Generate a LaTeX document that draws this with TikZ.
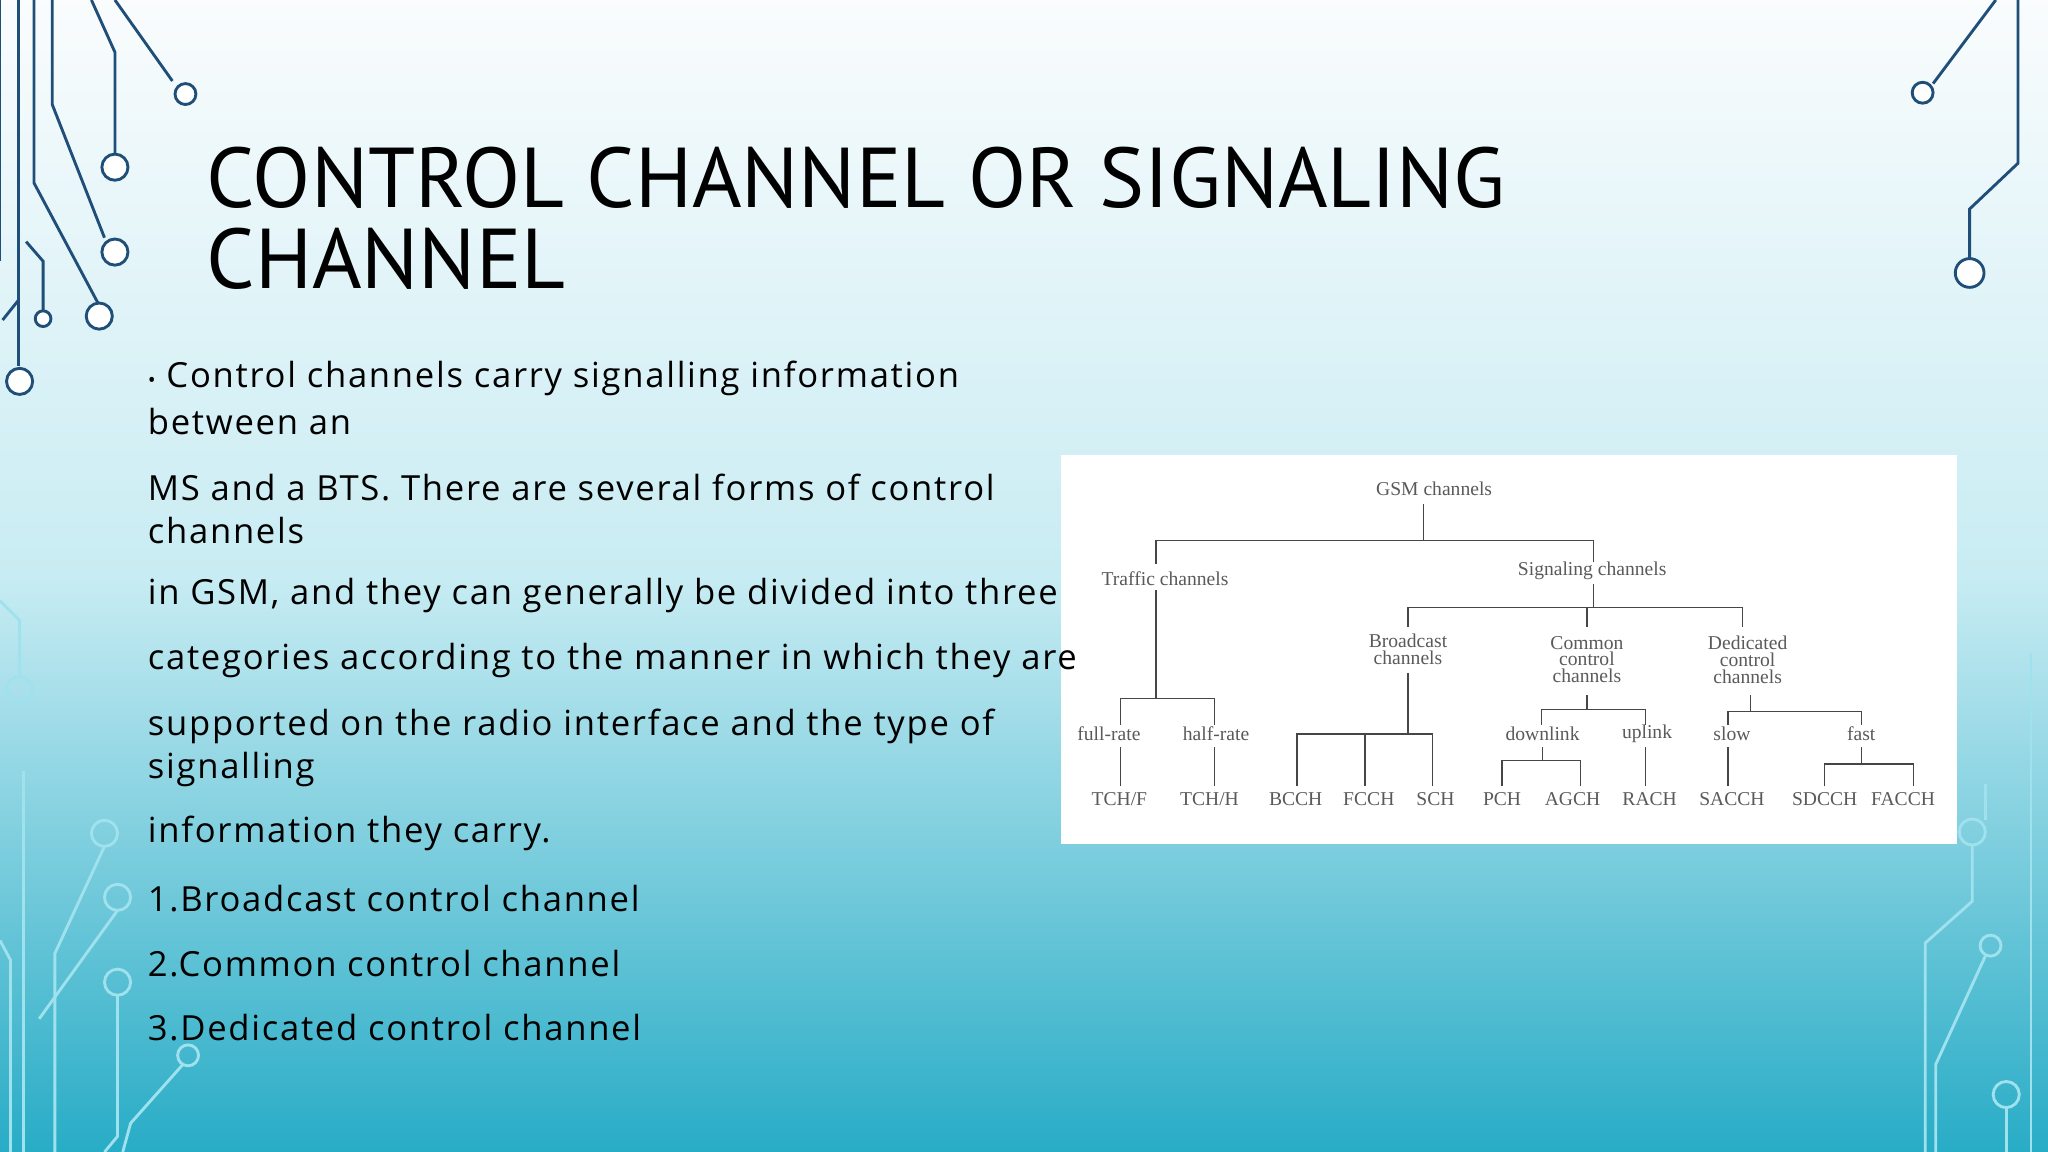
\documentclass[tikz,border=0pt]{standalone}
\usepackage{fontspec}
\setmainfont{PT Sans}
\newfontfamily\bfont[LetterSpace=5]{Open Sans}
\newfontfamily\dfont{Liberation Serif}
\definecolor{bgtop}{RGB}{250,252,253}
\definecolor{bgmid}{RGB}{200,236,243}
\definecolor{bgbot}{RGB}{40,172,198}
\definecolor{dkc}{RGB}{31,78,121}
\definecolor{ltc}{RGB}{160,225,238}
\definecolor{dtxt}{RGB}{90,90,90}
\definecolor{tlc}{RGB}{70,70,70}
\begin{document}
\begin{tikzpicture}[x=1pt,y=-1pt,
  dk/.style={draw=dkc,line width=2.2pt},
  lt/.style={draw=ltc,line width=2.2pt},
  body/.style={anchor=west,font=\bfont\fontsize{26.5}{28}\selectfont,inner sep=0pt},
  dt/.style={font=\dfont\fontsize{15}{16}\selectfont,text=dtxt,align=center,inner sep=1pt},
  tl/.style={draw=tlc,line width=1pt}]
\useasboundingbox (0,0) rectangle (1568,882);
\shade[top color=bgtop,bottom color=bgbot,middle color=bgmid] (0,0) rectangle (1568,882);
% circuit decorations left top
\draw[dk] (0,0)--(0,200); \draw[dk] (14,0)--(14,280);
\draw[dk] (26,0)--(26,140)--(75,232); \draw[dk] (40,0)--(40,80)--(80,182);
\draw[dk] (70,0)--(88,40)--(88,118); \draw[dk] (88,0)--(132,62);
\draw[dk] (2,245)--(14,230); \draw[dk] (20,185)--(33,200)--(33,238);
\draw[dk,fill=white] (142,72) circle (8); \draw[dk,fill=white] (88,128) circle (10);
\draw[dk,fill=white] (88,193) circle (10); \draw[dk,fill=white] (76,242) circle (10);
\draw[dk,fill=white] (33,244) circle (6); \draw[dk,fill=white] (15,292) circle (10);
% left bottom light
\draw[lt] (0,460)--(15,475)--(15,518); \draw[lt] (15,528) circle (10);
\draw[lt] (18,590)--(18,882); \draw[lt] (0,720)--(8,735)--(8,882);
\draw[lt] (80,648)--(42,730)--(42,882); \draw[lt] (90,697)--(30,780);
\draw[lt] (90,762)--(90,870)--(80,882); \draw[lt] (140,815)--(100,860)--(94,882);
\draw[lt] (80,638) circle (10); \draw[lt] (90,687) circle (10); \draw[lt] (90,752) circle (10); \draw[lt] (144,808) circle (8);
% right top
\draw[dk] (1528,0)--(1480,64); \draw[dk] (1545,0)--(1545,125)--(1508,160)--(1508,198);
\draw[dk,fill=white] (1472,71) circle (8); \draw[dk,fill=white] (1508,209) circle (11);
% right bottom
\draw[lt] (1520,600)--(1520,628); \draw[lt] (1510,637) circle (10);
\draw[lt] (1510,647)--(1510,690)--(1474,722)--(1474,882);
\draw[lt] (1520,732)--(1482,815)--(1482,882);
\draw[lt] (1524,724) circle (8); \draw[lt] (1536,838) circle (10); \draw[lt] (1536,848)--(1536,882);
\draw[lt] (1555,500)--(1555,882);
% title
\node[anchor=west,inner sep=0pt,font=\fontsize{65}{66}\selectfont] (t1) at (158,136) {CONTROL CHANNEL OR SIGNALING};
\node[anchor=west,inner sep=0pt,font=\fontsize{65}{66}\selectfont] (t2) at (158,198) {CHANNEL};
% diagram
\fill[white] (812,348) rectangle (1498,646);
\node[dt] (gsm) at (1098,374) {GSM channels};
\node[dt] (tr) at (892,443) {Traffic channels};
\node[dt] (sg) at (1219,437) {Signaling channels};
\node[dt] (bc) at (1078,497) {Broadcast\\[-3pt]channels};
\node[dt] (cc) at (1215,505) {Common\\[-3pt]control\\[-3pt]channels};
\node[dt] (dc) at (1338,505) {Dedicated\\[-3pt]control\\[-3pt]channels};
\node[dt] (fr) at (849,562) {full-rate};
\node[dt] (hr) at (931,562) {half-rate};
\node[dt] (dl) at (1181,562) {downlink};
\node[dt] (ul) at (1261,562) {uplink};
\node[dt] (sl) at (1326,562) {slow};
\node[dt] (fa) at (1425,562) {fast};
\node[dt] (tf) at (857,612) {TCH/F};
\node[dt] (th) at (926,612) {TCH/H};
\foreach \n/\x/\t in {bcch/992/BCCH,fcch/1048/FCCH,sch/1099/SCH,pch/1150/PCH,agch/1204/AGCH,rach/1263/RACH,sacch/1326/SACCH,sdcch/1397/SDCCH,facch/1457/FACCH}
  \node[dt] (\n) at (\x,612) {\t};
\draw[tl] (1090,386)--(1090,414);
\draw[tl] (885,432)--(885,414)--(1220,414)--(1220,430);
\draw[tl] (885,452)--(885,535); \draw[tl] (858,555)--(858,535)--(930,535)--(930,555);
\draw[tl] (858,572)--(858,602); \draw[tl] (930,572)--(930,602);
\draw[tl] (1220,447)--(1220,465); \draw[tl] (1078,480)--(1078,465)--(1334,465)--(1334,480);
\draw[tl] (1215,465)--(1215,480);
\draw[tl] (1078,515)--(1078,562); \draw[tl] (993,602)--(993,562)--(1097,562)--(1097,602); \draw[tl] (1045,562)--(1045,602);
\draw[tl] (1215,532)--(1215,543); \draw[tl] (1180,555)--(1180,543)--(1260,543)--(1260,555);
\draw[tl] (1181,572)--(1181,582); \draw[tl] (1150,602)--(1150,582)--(1210,582)--(1210,602);
\draw[tl] (1260,572)--(1260,602);
\draw[tl] (1340,532)--(1340,545); \draw[tl] (1323,555)--(1323,545)--(1425,545)--(1425,555);
\draw[tl] (1323,572)--(1323,602);
\draw[tl] (1425,572)--(1425,585); \draw[tl] (1397,602)--(1397,585)--(1465,585)--(1465,602);
% body
\node[body] (b1) at (113,290) {{\fontsize{16}{16}\selectfont•} Control channels carry signalling information};
\node[body] (b2) at (113,323) {between an};
\node[body] (b3) at (113,373) {MS and a BTS. There are several forms of control};
\node[body] (b4) at (113,406) {channels};
\node[body] (b5) at (113,456) {in GSM, and they can generally be divided into three};
\node[body] (b6) at (113,506) {categories according to the manner in which they are};
\node[body] (b7) at (113,556) {supported on the radio interface and the type of};
\node[body] (b8) at (113,589) {signalling};
\node[body] (b9) at (113,638) {information they carry.};
\node[body] (b10) at (113,688) {1.Broadcast control channel};
\node[body] (b11) at (113,738) {2.Common control channel};
\node[body] (b12) at (113,787) {3.Dedicated control channel};
\end{tikzpicture}
\end{document}
